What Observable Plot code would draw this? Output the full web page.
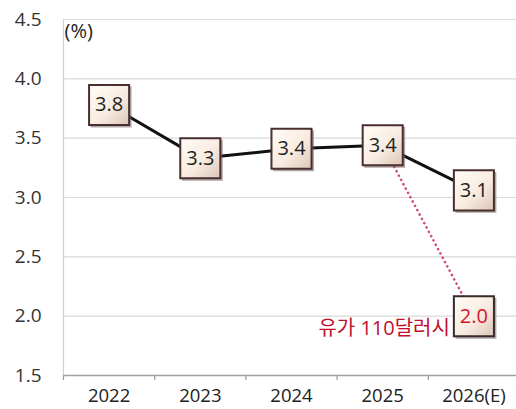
<!DOCTYPE html>
<html>
<head>
<meta charset="utf-8">
<script src="https://cdn.jsdelivr.net/npm/d3@7"></script>
<script src="https://cdn.jsdelivr.net/npm/@observablehq/plot@0.6"></script>
<style>
  body { margin: 0; background: #fff; }
  #chart svg { display: block; }
</style>
</head>
<body>
<div id="chart"></div>
<script>
const categories = ["2022", "2023", "2024", "2025", "2026(E)"];
const growth = [3.78, 3.33, 3.41, 3.44, 3.06];
const scenarioValue = 2.0;
const scenarioLabel = "유가 110달러시";
const yTicks = [1.5, 2.0, 2.5, 3.0, 3.5, 4.0, 4.5];
const unitLabel = "(%)";

const data = categories.map((c, i) => ({ cat: c, pos: i + 0.5, v: growth[i], label: growth[i].toFixed(1) }));
const scenario = [
  { pos: 3.5, v: growth[3] },
  { pos: 4.5, v: scenarioValue, label: scenarioValue.toFixed(1) }
];
const boundaries = d3.range(0, categories.length + 1);
const font = "'Open Sans', 'Noto Sans CJK KR', sans-serif";

const chart = Plot.plot({
  width: 516,
  height: 409,
  marginLeft: 63,
  marginRight: 0,
  marginTop: 19,
  marginBottom: 34,
  style: { fontFamily: font, background: "#fff", color: "#222" },
  x: { domain: [0, categories.length], range: [63, 519] },
  y: { domain: [1.5, 4.5], range: [375, 19] },
  marks: [
    Plot.ruleY(yTicks.slice(1), { stroke: "#d9d9d9", strokeWidth: 1.2 }),
    Plot.ruleX([0], { stroke: "#d0d0d0", strokeWidth: 1.2 }),
    Plot.axisY({ ticks: yTicks, tickFormat: d => d.toFixed(1), tickSize: 0, tickPadding: 22, fontSize: 19, fill: "#333", label: null }),
    Plot.axisX({ ticks: boundaries, tickFormat: () => "", tickSize: 5, stroke: "#999", strokeWidth: 1.2, label: null }),
    Plot.axisX({ ticks: data.map(d => d.pos), tickFormat: p => categories[Math.floor(p)], tickSize: 0, tickPadding: 13, fontSize: 18.5, fill: "#222", label: null }),
    Plot.ruleY([1.5], { stroke: "#a0a0a0", strokeWidth: 1.5 }),
    Plot.line(scenario, { x: "pos", y: "v", stroke: "#d0506a", strokeWidth: 2.6, strokeDasharray: "0.1,4.8", strokeLinecap: "round" }),
    Plot.line(data, { x: "pos", y: "v", stroke: "#111", strokeWidth: 3 }),
    Plot.dot(data, { x: "pos", y: "v", symbol: "square", r: 23.1, fill: "#6e6060", stroke: "none", dx: 2, dy: 2, fillOpacity: 0.55 }),
    Plot.dot([scenario[1]], { x: "pos", y: "v", symbol: "square", r: 23.1, fill: "#6e6060", stroke: "none", dx: 2, dy: 2, fillOpacity: 0.55 }),
    Plot.dot(data, { x: "pos", y: "v", symbol: "square", r: 22.6, fill: "url(#boxgrad)", stroke: "#4a2f2f", strokeWidth: 2 }),
    Plot.dot([scenario[1]], { x: "pos", y: "v", symbol: "square", r: 22.6, fill: "url(#boxgrad)", stroke: "#3a2a2a", strokeWidth: 2 }),
    Plot.text(data, { x: "pos", y: "v", text: "label", fontSize: 20, fill: "#222" }),
    Plot.text([scenario[1]], { x: "pos", y: "v", text: "label", fontSize: 20, fill: "#d0142c" }),
    Plot.text([scenario[1]], { x: "pos", y: "v", text: () => scenarioLabel, textAnchor: "end", dx: -24, dy: 12, fontSize: 20, fill: "#c0102a" }),
    Plot.text([unitLabel], { x: 0, y: 4.5, text: d => d, textAnchor: "start", dx: 1, dy: 12, fontSize: 20, fill: "#222", letterSpacing: 2 })
  ]
});

const ns = "http://www.w3.org/2000/svg";
const defs = document.createElementNS(ns, "defs");
defs.innerHTML = `<linearGradient id="boxgrad" x1="0" y1="0" x2="1" y2="1">
  <stop offset="0" stop-color="#fffdf8"/>
  <stop offset="0.55" stop-color="#f8ece0"/>
  <stop offset="1" stop-color="#dcc6b8"/>
</linearGradient>`;
chart.insertBefore(defs, chart.firstChild);
document.getElementById("chart").appendChild(chart);
</script>
</body>
</html>
